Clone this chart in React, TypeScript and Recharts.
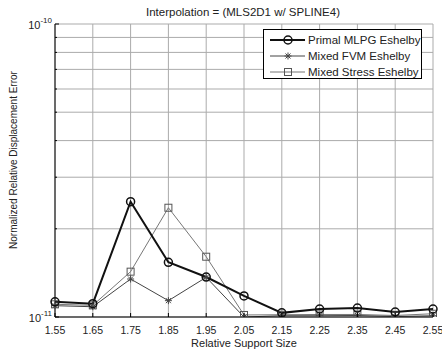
import { CartesianGrid, Line, LineChart, XAxis, YAxis } from "recharts";

const supportSizes = ["1.55", "1.65", "1.75", "1.85", "1.95", "2.05", "2.15", "2.25", "2.35", "2.45", "2.55"];
const primalMlpg = [1.127e-11, 1.11e-11, 2.475e-11, 1.537e-11, 1.369e-11, 1.18e-11, 1.033e-11, 1.065e-11, 1.073e-11, 1.04e-11, 1.065e-11];
const mixedFvm = [1.093e-11, 1.084e-11, 1.348e-11, 1.137e-11, 1.366e-11, 1.0e-11, 1.01e-11, 1.01e-11, 1.012e-11, 1.004e-11, 1.01e-11];
const mixedStress = [1.105e-11, 1.096e-11, 1.428e-11, 2.36e-11, 1.606e-11, 1.016e-11, 1.018e-11, 1.02e-11, 1.02e-11, 1.012e-11, 1.026e-11];
const yTicks = [1e-11, 2e-11, 3e-11, 4e-11, 5e-11, 6e-11, 7e-11, 8e-11, 9e-11, 1e-10];
const yLabels: Record<string, string> = { "1e-11": "-11", "1e-10": "-10" };

const data = supportSizes.map((x, i) => ({
  x,
  primal: primalMlpg[i],
  fvm: mixedFvm[i],
  stress: mixedStress[i],
}));

const FONT = "'Liberation Sans', Arial, sans-serif";

const Circle = (p: any) => (
  <circle key={p.key ?? `c${p.index}`} cx={p.cx} cy={p.cy} r={4} fill="none" stroke="#111" strokeWidth={1.5} />
);
const Star = (p: any) => (
  <g key={p.key ?? `s${p.index}`} stroke="#444" strokeWidth={1}>
    <line x1={p.cx - 3.5} y1={p.cy} x2={p.cx + 3.5} y2={p.cy} />
    <line x1={p.cx} y1={p.cy - 3.5} x2={p.cx} y2={p.cy + 3.5} />
    <line x1={p.cx - 2.5} y1={p.cy - 2.5} x2={p.cx + 2.5} y2={p.cy + 2.5} />
    <line x1={p.cx - 2.5} y1={p.cy + 2.5} x2={p.cx + 2.5} y2={p.cy - 2.5} />
  </g>
);
const Square = (p: any) => (
  <rect key={p.key ?? `q${p.index}`} x={p.cx - 3.5} y={p.cy - 3.5} width={7} height={7} fill="none" stroke="#555" strokeWidth={1} />
);

const BottomTick = ({ x, y, payload }: any) => (
  <g>
    <line x1={x} y1={y} x2={x} y2={y - 4} stroke="#000" />
    <text x={x} y={y + 17} textAnchor="middle" fontSize={10.5} fill="#222" fontFamily={FONT}>
      {payload.value}
    </text>
  </g>
);
const TopTick = ({ x, y }: any) => <line x1={x} y1={y} x2={x} y2={y + 4} stroke="#000" />;

const LeftTick = ({ x, y, payload }: any) => {
  const label = yLabels[String(payload.value)];
  return (
    <g>
      <line x1={x} y1={y} x2={x + (label ? 4 : 2)} y2={y} stroke="#000" />
      {label && (
        <text x={x - 3} y={y + 5} textAnchor="end" fontSize={11} fill="#222" fontFamily={FONT}>
          10<tspan dy={-6} fontSize={8}>{label}</tspan>
        </text>
      )}
    </g>
  );
};
const RightTick = ({ x, y, payload }: any) => {
  const major = yLabels[String(payload.value)];
  return <line x1={x} y1={y} x2={x - (major ? 4 : 2)} y2={y} stroke="#000" />;
};

const legendItems = [
  { name: "Primal MLPG Eshelby", color: "#111", width: 2, mark: "circle" },
  { name: "Mixed FVM Eshelby", color: "#444", width: 1, mark: "star" },
  { name: "Mixed Stress Eshelby", color: "#777", width: 1, mark: "square" },
];

const ChartLegend = () => (
  <div
    style={{
      position: "absolute",
      left: 263,
      top: 29,
      width: 159,
      height: 50,
      border: "1px solid #000",
      background: "#fff",
      boxSizing: "border-box",
    }}
  >
    <svg width={159} height={50}>
      {legendItems.map((it, i) => {
        const cy = 10 + i * 16;
        return (
          <g key={it.name}>
            <line x1={6} y1={cy} x2={41} y2={cy} stroke={it.color} strokeWidth={it.width} />
            {it.mark === "circle" && <Circle cx={24} cy={cy} index={i} />}
            {it.mark === "star" && <Star cx={24} cy={cy} index={i} />}
            {it.mark === "square" && <Square cx={24} cy={cy} index={i} />}
            <text x={44} y={cy + 4} fontSize={11.5} fill="#222" fontFamily={FONT}>
              {it.name}
            </text>
          </g>
        );
      })}
    </svg>
  </div>
);

export default function App() {
  return (
    <div style={{ position: "absolute", left: 0, top: 0, width: 442, height: 354, background: "#fff" }}>
      <LineChart width={442} height={354} data={data} margin={{ top: 24, right: 9, bottom: 0, left: 0 }}>
        <CartesianGrid xAxisId="bottom" yAxisId="left" stroke="#ababab" strokeWidth={1} />
        <XAxis
          dataKey="x"
          xAxisId="bottom"
          height={37}
          tickLine={false}
          tickSize={0}
          tickMargin={0}
          axisLine={{ stroke: "#000" }}
          tick={<BottomTick />}
          interval={0}
        />
        <XAxis
          dataKey="x"
          xAxisId="top"
          orientation="top"
          height={0}
          tickLine={false}
          tickSize={0}
          tickMargin={0}
          axisLine={{ stroke: "#000" }}
          tick={<TopTick />}
          interval={0}
        />
        <YAxis
          yAxisId="left"
          scale="log"
          domain={[1e-11, 1e-10]}
          ticks={yTicks}
          allowDataOverflow
          width={55}
          tickLine={false}
          tickSize={0}
          tickMargin={0}
          axisLine={{ stroke: "#000" }}
          tick={<LeftTick />}
          interval={0}
        />
        <YAxis
          yAxisId="right"
          orientation="right"
          scale="log"
          domain={[1e-11, 1e-10]}
          ticks={yTicks}
          allowDataOverflow
          width={0}
          tickLine={false}
          tickSize={0}
          tickMargin={0}
          axisLine={{ stroke: "#000" }}
          tick={<RightTick />}
          interval={0}
        />
        <Line xAxisId="bottom" yAxisId="left" dataKey="stress" stroke="#777" strokeWidth={1} dot={Square} isAnimationActive={false} />
        <Line xAxisId="bottom" yAxisId="left" dataKey="fvm" stroke="#444" strokeWidth={1} dot={Star} isAnimationActive={false} />
        <Line xAxisId="bottom" yAxisId="left" dataKey="primal" stroke="#111" strokeWidth={2} dot={Circle} isAnimationActive={false} />
        <text x={243} y={16} textAnchor="middle" fontSize={11.5} fill="#222" fontFamily={FONT}>
          Interpolation = (MLS2D1 w/ SPLINE4)
        </text>
        <text x={244} y={347} textAnchor="middle" fontSize={11} fill="#222" fontFamily={FONT}>
          Relative Support Size
        </text>
        <text
          x={17}
          y={160}
          transform="rotate(-90 17 160)"
          textAnchor="middle"
          fontSize={10}
          fill="#222"
          fontFamily={FONT}
        >
          Normalized Relative Displacement Error
        </text>
      </LineChart>
      <ChartLegend />
    </div>
  );
}
